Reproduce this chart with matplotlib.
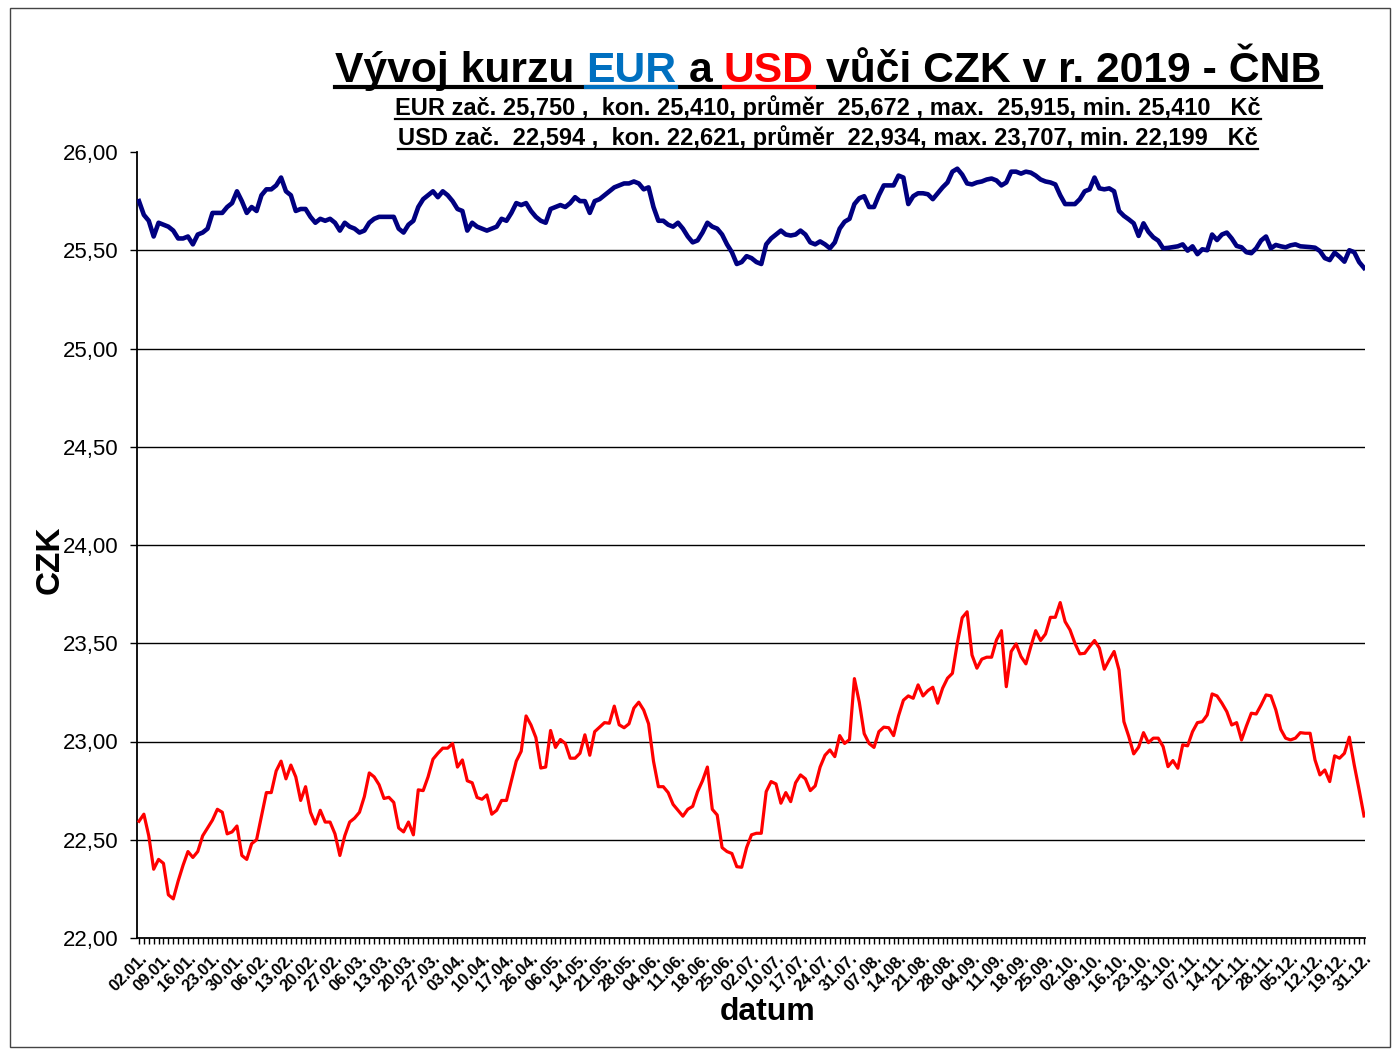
import numpy as np
import matplotlib
matplotlib.use("Agg")
import matplotlib.pyplot as plt
from matplotlib.lines import Line2D
from matplotlib.patches import Rectangle

plt.rcParams['font.family'] = ['Liberation Sans', 'DejaVu Sans']

# denni kurzy CNB 2019
eur = [25.75, 25.68, 25.65, 25.57, 25.64, 25.63, 25.62, 25.60, 25.56, 25.56,
       25.57, 25.53, 25.58, 25.59, 25.61, 25.69, 25.69, 25.69, 25.72, 25.74,
       25.80, 25.75, 25.69, 25.72, 25.70, 25.78, 25.81, 25.81, 25.83, 25.87,
       25.80, 25.78, 25.70, 25.71, 25.71, 25.67, 25.64, 25.66, 25.65, 25.66,
       25.64, 25.60, 25.64, 25.62, 25.61, 25.59, 25.60, 25.64, 25.66, 25.67,
       25.67, 25.67, 25.67, 25.61, 25.59, 25.63, 25.65, 25.72, 25.76, 25.78,
       25.80, 25.77, 25.80, 25.78, 25.75, 25.71, 25.70, 25.60, 25.64, 25.62,
       25.61, 25.60, 25.61, 25.62, 25.66, 25.65, 25.69, 25.74, 25.73, 25.74,
       25.70, 25.67, 25.65, 25.64, 25.71, 25.72, 25.73, 25.72, 25.74, 25.77,
       25.75, 25.75, 25.69, 25.75, 25.76, 25.78, 25.80, 25.82, 25.83, 25.84,
       25.84, 25.85, 25.84, 25.81, 25.82, 25.72, 25.65, 25.65, 25.63, 25.62,
       25.64, 25.61, 25.57, 25.54, 25.55, 25.59, 25.64, 25.62, 25.61, 25.58,
       25.53, 25.49, 25.43, 25.44, 25.47, 25.46, 25.44, 25.43, 25.53, 25.56,
       25.58, 25.60, 25.58, 25.575, 25.58, 25.60, 25.58, 25.54, 25.53, 25.545,
       25.53, 25.51, 25.54, 25.61, 25.645, 25.66, 25.735, 25.765, 25.775, 25.72,
       25.72, 25.78, 25.83, 25.83, 25.83, 25.88, 25.87, 25.735, 25.775, 25.79,
       25.79, 25.785, 25.76, 25.79, 25.82, 25.845, 25.90, 25.915, 25.885, 25.84,
       25.835, 25.845, 25.85, 25.86, 25.865, 25.855, 25.83, 25.845, 25.90, 25.90,
       25.89, 25.90, 25.895, 25.88, 25.86, 25.85, 25.845, 25.835, 25.78, 25.735,
       25.735, 25.735, 25.76, 25.80, 25.81, 25.87, 25.815, 25.81, 25.815, 25.80,
       25.70, 25.675, 25.657, 25.637, 25.573, 25.637, 25.594, 25.566, 25.549, 25.51,
       25.512, 25.516, 25.52, 25.53, 25.498, 25.52, 25.48, 25.505, 25.50, 25.58,
       25.552, 25.58, 25.59, 25.56, 25.522, 25.515, 25.49, 25.485, 25.51, 25.55,
       25.57, 25.51, 25.527, 25.52, 25.515, 25.525, 25.53, 25.52, 25.518, 25.516,
       25.513, 25.496, 25.46, 25.45, 25.488, 25.467, 25.442, 25.50, 25.49, 25.44,
       25.41]

usd = [22.594, 22.63, 22.52, 22.35, 22.40, 22.38, 22.22, 22.199, 22.29, 22.37,
       22.44, 22.41, 22.44, 22.52, 22.56, 22.60, 22.655, 22.64, 22.53, 22.54,
       22.57, 22.42, 22.40, 22.48, 22.50, 22.62, 22.74, 22.74, 22.85, 22.90,
       22.81, 22.88, 22.82, 22.70, 22.77, 22.64, 22.58, 22.65, 22.59, 22.59,
       22.53, 22.42, 22.52, 22.59, 22.61, 22.64, 22.72, 22.84, 22.82, 22.78,
       22.71, 22.716, 22.69, 22.56, 22.54, 22.59, 22.525, 22.754, 22.75, 22.82,
       22.91, 22.94, 22.966, 22.966, 22.99, 22.87, 22.906, 22.80, 22.79, 22.715,
       22.706, 22.728, 22.63, 22.65, 22.70, 22.70, 22.80, 22.90, 22.95, 23.13,
       23.084, 23.02, 22.865, 22.87, 23.056, 22.97, 23.01, 22.99, 22.915, 22.915,
       22.94, 23.034, 22.93, 23.05, 23.073, 23.096, 23.093, 23.18, 23.085, 23.07,
       23.09, 23.17, 23.20, 23.16, 23.09, 22.90, 22.77, 22.77, 22.74, 22.68,
       22.65, 22.62, 22.655, 22.67, 22.745, 22.80, 22.87, 22.655, 22.626, 22.46,
       22.44, 22.43, 22.363, 22.36, 22.46, 22.525, 22.533, 22.533, 22.745, 22.796,
       22.784, 22.686, 22.74, 22.694, 22.79, 22.83, 22.81, 22.75, 22.774, 22.87,
       22.93, 22.957, 22.923, 23.03, 22.99, 23.01, 23.32, 23.20, 23.04, 22.99,
       22.97, 23.05, 23.073, 23.07, 23.03, 23.13, 23.21, 23.232, 23.22, 23.288,
       23.232, 23.259, 23.276, 23.195, 23.271, 23.322, 23.347, 23.50, 23.63, 23.66,
       23.44, 23.373, 23.419, 23.429, 23.429, 23.517, 23.564, 23.279, 23.458, 23.497,
       23.432, 23.395, 23.483, 23.564, 23.514, 23.547, 23.632, 23.632, 23.707, 23.61,
       23.568, 23.50, 23.446, 23.449, 23.483, 23.514, 23.475, 23.368, 23.415, 23.458,
       23.364, 23.101, 23.025, 22.937, 22.971, 23.045, 22.994, 23.017, 23.017, 22.974,
       22.872, 22.903, 22.864, 22.983, 22.978, 23.05, 23.096, 23.101, 23.135, 23.242,
       23.232, 23.195, 23.152, 23.084, 23.096, 23.008, 23.079, 23.144, 23.14, 23.186,
       23.237, 23.232, 23.161, 23.062, 23.017, 23.008, 23.017, 23.045, 23.042, 23.042,
       22.906, 22.83, 22.855, 22.796, 22.927, 22.915, 22.94, 23.022, 22.881, 22.754,
       22.621]

# popisky osy x - kazdy paty obchodni den
dates = ['02.01.', '09.01.', '16.01.', '23.01.', '30.01.', '06.02.', '13.02.', '20.02.',
         '27.02.', '06.03.', '13.03.', '20.03.', '27.03.', '03.04.', '10.04.', '17.04.',
         '26.04.', '06.05.', '14.05.', '21.05.', '28.05.', '04.06.', '11.06.', '18.06.',
         '25.06.', '02.07.', '10.07.', '17.07.', '24.07.', '31.07.', '07.08.', '14.08.',
         '21.08.', '28.08.', '04.09.', '11.09.', '18.09.', '25.09.', '02.10.', '09.10.',
         '16.10.', '23.10.', '31.10.', '07.11.', '14.11.', '21.11.', '28.11.', '05.12.',
         '12.12.', '19.12.', '31.12.']

yticks = [22.0, 22.5, 23.0, 23.5, 24.0, 24.5, 25.0, 25.5, 26.0]

title_parts = [('Vývoj kurzu', 'black'), ('EUR', '#0070C0'), ('a', 'black'),
               ('USD', '#FF0000'), ('vůči CZK v r. 2019 - ČNB', 'black')]
sub_eur = 'EUR zač. 25,750 ,  kon. 25,410, průměr  25,672 , max.  25,915, min. 25,410   Kč'
sub_usd = 'USD zač.  22,594 ,  kon. 22,621, průměr  22,934, max. 23,707, min. 22,199   Kč'

W, H = 1392, 1050
fig = plt.figure(figsize=(W / 100, H / 100), dpi=100)
ax = fig.add_axes([137 / W, 1 - 938 / H, (1365 - 137) / W, (938 - 152) / H])

x = np.arange(len(eur))
ax.plot(x, eur, color='#000080', lw=3.3, solid_joinstyle='round', zorder=3)
ax.plot(x, usd, color='#FF0000', lw=2.3, solid_joinstyle='round', zorder=3)

ax.set_xlim(-0.4, 250.2)
ax.set_ylim(22, 26)
for v in yticks[1:-1]:
    ax.axhline(v, color='black', lw=1.0, zorder=1)

ax.set_yticks(yticks)
ax.set_yticklabels([f'{v:.2f}'.replace('.', ',') for v in yticks], fontsize=16)
ax.set_xticks(x[::5])
ax.set_xticklabels(dates, rotation=45, ha='right', rotation_mode='anchor',
                   fontsize=12, fontweight='bold')
ax.set_xticks(x, minor=True)
ax.tick_params(axis='x', which='both', direction='out', length=4, width=1, pad=5)
ax.tick_params(axis='y', direction='out', length=5, width=1, pad=8)
for s in ['top', 'right']:
    ax.spines[s].set_visible(False)
for s in ['left', 'bottom']:
    ax.spines[s].set_linewidth(1.3)

fig.text(50 / W, 1 - 560 / H, 'CZK', rotation=90, fontsize=24, fontweight='bold',
         ha='center', va='center')
fig.text(768 / W, 1 - 1012 / H, 'datum', fontsize=23, fontweight='bold',
         ha='center', va='center')

# ramecek kolem obrazku
fig.patches.append(Rectangle((10 / W, 3 / H), 1380 / W, 1039 / H, fill=False,
                             edgecolor='#444444', lw=1, transform=fig.transFigure))

r = fig.canvas.get_renderer()


def row(parts, cx, base, size, ul_y, ul_w, fit=None):
    def measure(sz):
        texts = [fig.text(0, 1 - base / H, s, fontsize=sz, fontweight='bold', color=c,
                          va='baseline', ha='left') for s, c in parts]
        sp = fig.text(0, 0, 'x x', fontsize=sz, fontweight='bold')
        sp2 = fig.text(0, 0, 'xx', fontsize=sz, fontweight='bold')
        gap = sp.get_window_extent(r).width - sp2.get_window_extent(r).width
        sp.remove()
        sp2.remove()
        widths = [t.get_window_extent(r).width for t in texts]
        return texts, widths, gap

    texts, widths, gap = measure(size)
    total = sum(widths) + gap * (len(parts) - 1)
    if fit is not None:
        for t in texts:
            t.remove()
        size = size * fit / total
        texts, widths, gap = measure(size)
        total = sum(widths) + gap * (len(parts) - 1)
    x0 = cx - total / 2
    fig.add_artist(Line2D([x0 / W, (x0 + total) / W], [1 - ul_y / H] * 2, color='black',
                          lw=ul_w, transform=fig.transFigure))
    for t, w, (s, c) in zip(texts, widths, parts):
        t.set_x(x0 / W)
        if c != 'black':
            fig.add_artist(Line2D([x0 / W, (x0 + w) / W], [1 - ul_y / H] * 2, color=c,
                                  lw=ul_w, transform=fig.transFigure))
        x0 += w + gap


row(title_parts, 828, 82, 36, 87, 3, fit=985)
row([(sub_eur, 'black')], 828, 115, 17, 119, 1.6)
row([(sub_usd, 'black')], 828, 145, 17, 149, 1.6)

fig.savefig('out.png', dpi=100)
